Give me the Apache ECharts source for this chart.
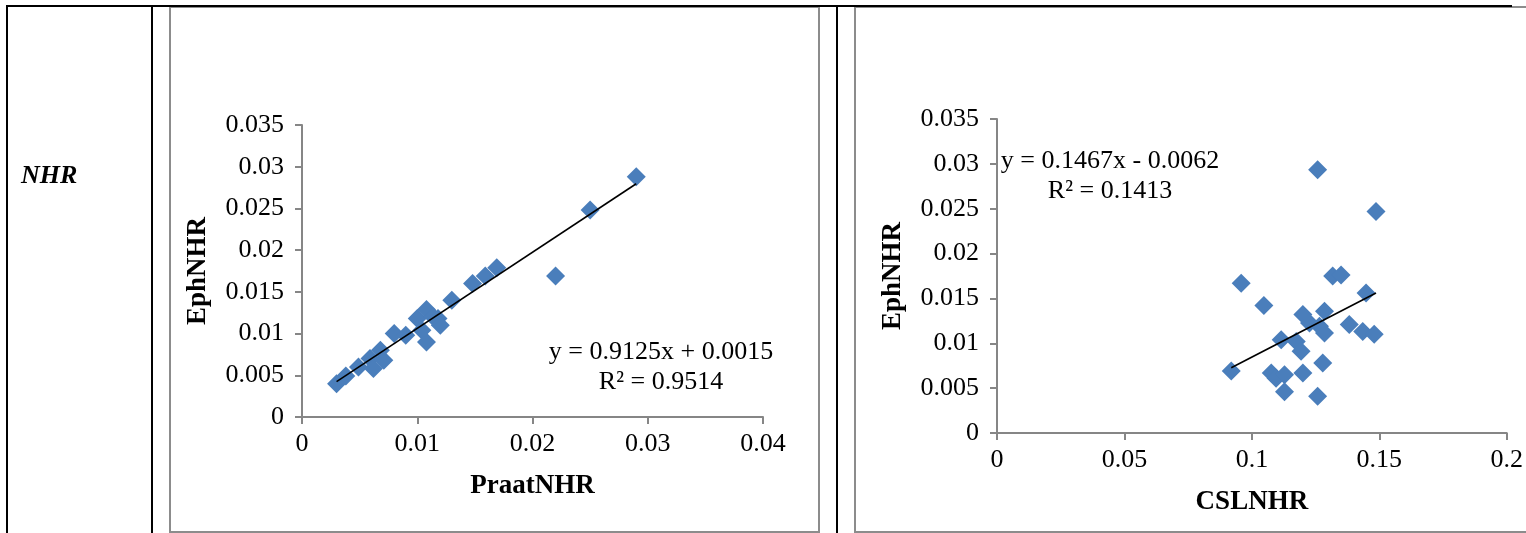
<!DOCTYPE html>
<html>
<head>
<meta charset="utf-8">
<script src="https://cdn.jsdelivr.net/npm/echarts@6/dist/echarts.min.js"></script>
<style>
html,body{margin:0;padding:0;background:#fff;}
#c{width:1526px;height:533px;}
</style>
</head>
<body>
<div id="c"></div>
<script>
// ---- Data ----
const praatX = [0.003,0.0038,0.0049,0.0059,0.0062,0.0068,0.0071,0.008,0.009,0.01,0.0104,0.0108,0.0108,0.0114,0.0118,0.012,0.013,0.0148,0.0159,0.0169,0.022,0.025,0.029];
const ephY1  = [0.004,0.0049,0.006,0.007,0.0058,0.008,0.0068,0.01,0.0098,0.0118,0.0104,0.0129,0.009,0.012,0.0118,0.011,0.014,0.016,0.0169,0.0179,0.0169,0.0248,0.0288];

const cslX  = [0.1258,0.1487,0.0958,0.1317,0.135,0.1448,0.1047,0.12,0.1285,0.1226,0.1265,0.1285,0.1382,0.1435,0.148,0.1115,0.1174,0.1193,0.1278,0.0919,0.1076,0.1095,0.1128,0.12,0.1128,0.1258];
const ephY2 = [0.02935,0.0247,0.0167,0.0175,0.0176,0.0156,0.0142,0.0132,0.01356,0.01226,0.0119,0.01115,0.0121,0.0113,0.011,0.0104,0.0102,0.0091,0.0078,0.0069,0.0067,0.0061,0.0065,0.0067,0.0046,0.0041];

const trend1 = {slope: 0.9125, intercept: 0.0015, text: ['y = 0.9125x + 0.0015', 'R² = 0.9514']};
const trend2 = {slope: 0.1467, intercept: -0.0062, text: ['y = 0.1467x - 0.0062', 'R² = 0.1413']};

const yTicks = [0, 0.005, 0.01, 0.015, 0.02, 0.025, 0.03, 0.035];
const x1Ticks = [0, 0.01, 0.02, 0.03, 0.04];
const x2Ticks = [0, 0.05, 0.1, 0.15, 0.2];

const rowLabel = 'NHR';
const yName = 'EphNHR';
const x1Name = 'PraatNHR';
const x2Name = 'CSLNHR';

// ---- Build ----
function pairs(xs, ys){ return xs.map((x,i)=>[x, ys[i]]); }
function trendLine(xs, t){
  const lo = Math.min(...xs), hi = Math.max(...xs);
  return [[lo, t.slope*lo + t.intercept],[hi, t.slope*hi + t.intercept]];
}
const FONT = '"Liberation Serif","Times New Roman",serif';
const axisGray = '#868686';
const fmt = v => String(+(+v).toFixed(4));

function xAxis(grid, ticks, name, gap){
  return {
    type:'value', gridIndex:grid, min:ticks[0], max:ticks[ticks.length-1], interval:ticks[1]-ticks[0],
    splitLine:{show:false},
    axisLine:{show:true, onZero:false, lineStyle:{color:axisGray, width:2}},
    axisTick:{show:true, length:7, inside:false, lineStyle:{color:axisGray, width:2}},
    axisLabel:{color:'#000', fontFamily:FONT, fontSize:26, margin:14, formatter:fmt},
    name:name, nameLocation:'middle', nameGap:gap,
    nameTextStyle:{color:'#000', fontFamily:FONT, fontSize:27, fontWeight:'bold'}
  };
}
function yAxis(grid, ticks, name, gap){
  return {
    type:'value', gridIndex:grid, min:ticks[0], max:ticks[ticks.length-1], interval:ticks[1]-ticks[0],
    splitLine:{show:false},
    axisLine:{show:true, onZero:false, lineStyle:{color:axisGray, width:2}},
    axisTick:{show:true, length:7, inside:false, lineStyle:{color:axisGray, width:2}},
    axisLabel:{color:'#000', fontFamily:FONT, fontSize:26, margin:18, formatter:fmt},
    name:name, nameLocation:'middle', nameGap:gap, nameRotate:90,
    nameTextStyle:{color:'#000', fontFamily:FONT, fontSize:27, fontWeight:'bold'}
  };
}
function scatter(i, xs, ys){
  return {type:'scatter', xAxisIndex:i, yAxisIndex:i, data:pairs(xs, ys), symbol:'diamond', symbolSize:19,
    itemStyle:{color:'#4A7EBB', opacity:1}, z:3};
}
function tline(i, xs, t){
  return {type:'line', xAxisIndex:i, yAxisIndex:i, data:trendLine(xs, t), symbol:'none',
    lineStyle:{color:'#000', width:1.6}, z:4, silent:true};
}

const chart = echarts.init(document.getElementById('c'), null, {renderer:'canvas'});
chart.setOption({
  animation:false,
  backgroundColor:'#fff',
  grid:[
    {left:302, top:125, width:461, height:292},
    {left:997, top:119, width:511, height:314}
  ],
  xAxis:[xAxis(0, x1Ticks, x1Name, 56), xAxis(1, x2Ticks, x2Name, 56)],
  yAxis:[yAxis(0, yTicks, yName, 90), yAxis(1, yTicks, yName, 90)],
  series:[scatter(0, praatX, ephY1), tline(0, praatX, trend1), scatter(1, cslX, ephY2), tline(1, cslX, trend2)],
  graphic:[
    // chart panels (gray borders)
    {type:'rect', shape:{x:170, y:7, width:649, height:525}, style:{fill:null, stroke:'#8c8c8c', lineWidth:2}, z:-1},
    {type:'rect', shape:{x:855, y:7, width:700, height:525}, style:{fill:null, stroke:'#8c8c8c', lineWidth:2}, z:-1},
    // table lines (black)
    {type:'line', shape:{x1:7, y1:6, x2:1512, y2:6}, style:{stroke:'#000', lineWidth:2}, z:10},
    {type:'line', shape:{x1:7, y1:5, x2:7, y2:533}, style:{stroke:'#000', lineWidth:2}, z:10},
    {type:'line', shape:{x1:152, y1:5, x2:152, y2:533}, style:{stroke:'#000', lineWidth:2}, z:10},
    {type:'line', shape:{x1:837, y1:5, x2:837, y2:533}, style:{stroke:'#000', lineWidth:2}, z:10},
    // row label
    {type:'text', left:21, top:163, style:{text:rowLabel, font:'italic bold 26px '+FONT, fill:'#000'}},
    // trendline equations
    {type:'text', x:661, y:337, style:{text:trend1.text.join('\n'), font:'26px '+FONT, fill:'#000', align:'center', verticalAlign:'top', lineHeight:30}},
    {type:'text', x:1110, y:146, style:{text:trend2.text.join('\n'), font:'26px '+FONT, fill:'#000', align:'center', verticalAlign:'top', lineHeight:30}}
  ]
});
</script>
</body>
</html>
